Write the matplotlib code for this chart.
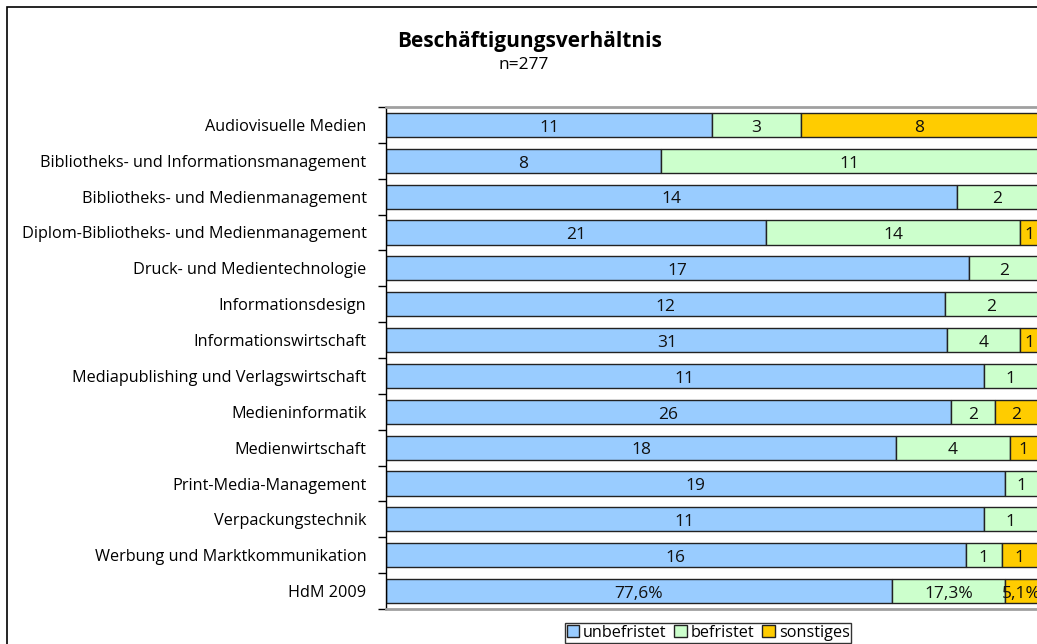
import numpy as np
import matplotlib.pyplot as plt
from matplotlib.patches import Rectangle

categories = ["Audiovisuelle Medien",
              "Bibliotheks- und Informationsmanagement",
              "Bibliotheks- und Medienmanagement",
              "Diplom-Bibliotheks- und Medienmanagement",
              "Druck- und Medientechnologie",
              "Informationsdesign",
              "Informationswirtschaft",
              "Mediapublishing und Verlagswirtschaft",
              "Medieninformatik",
              "Medienwirtschaft",
              "Print-Media-Management",
              "Verpackungstechnik",
              "Werbung und Marktkommunikation",
              "HdM 2009"]
unbefristet = [11, 8, 14, 21, 17, 12, 31, 11, 26, 18, 19, 11, 16, 77.6]
befristet = [3, 11, 2, 14, 2, 2, 4, 1, 2, 4, 1, 1, 1, 17.3]
sonstiges = [8, 0, 0, 1, 0, 0, 1, 0, 2, 1, 0, 0, 1, 5.1]
series_names = ["unbefristet", "befristet", "sonstiges"]
colors = ["#99CCFF", "#CCFFCC", "#FFCC00"]

plt.rcParams['font.family'] = ['Open Sans', 'DejaVu Sans']

W, H = 1037, 644
fig = plt.figure(figsize=(W/100, H/100), dpi=100)

# outer chart frame
fig.patches.append(Rectangle((7/W, -0.1), 1.2, 1 - 7/H + 0.1, transform=fig.transFigure,
                             fill=False, edgecolor='black', linewidth=1.2))

ax = fig.add_axes([386/W, 1 - 609/H, 652/W, (609 - 107)/H])

data = np.array([unbefristet, befristet, sonstiges], dtype=float)
totals = data.sum(axis=0)
shares = data / totals
y = np.arange(len(categories))
left = np.zeros(len(categories))
for k in range(3):
    ax.barh(y, shares[k], left=left, height=0.67, color=colors[k],
            edgecolor='#222222', linewidth=1.0, label=series_names[k])
    for i in range(len(categories)):
        v = data[k, i]
        if v <= 0:
            continue
        if i == len(categories) - 1:
            txt = f"{v:.1f}%".replace('.', ',')
        else:
            txt = f"{int(v)}"
        ax.text(left[i] + shares[k, i] / 2, y[i] + 0.02, txt, ha='center',
                va='center_baseline', fontsize=12.5, color='#111111', clip_on=False)
    left += shares[k]

ax.set_xlim(0, 1)
ax.set_ylim(len(categories) - 0.5, -0.5)
ax.set_xticks([])
ax.set_yticks(y)
ax.set_yticklabels(categories, fontsize=11.7, va='center_baseline')
ax.tick_params(axis='y', which='major', length=0, pad=14)
ax.set_yticks(np.arange(-0.5, len(categories)), minor=True)
ax.tick_params(axis='y', which='minor', length=6, width=1, color='black')
for s in ['top', 'bottom']:
    ax.spines[s].set_color('#A0A0A0')
    ax.spines[s].set_linewidth(2)
ax.spines['right'].set_visible(False)
ax.spines['left'].set_color('black')
ax.spines['left'].set_linewidth(1)

fig.text(530/W, 1 - 42/H, "Beschäftigungsverhältnis", ha='center', va='center',
         fontsize=15, fontweight='bold')
fig.text(524/W, 1 - 65/H, "n=277", ha='center', va='center', fontsize=12.5)

leg = fig.legend(loc='center', bbox_to_anchor=(708/W, 1 - 633/H), ncol=3,
                 fontsize=11.7, frameon=True, fancybox=False, edgecolor='black',
                 handlelength=0.75, handleheight=0.75, handletextpad=0.25,
                 columnspacing=0.5, borderpad=0.1, borderaxespad=0)
leg.get_frame().set_linewidth(1)

fig.savefig("out.png", dpi=100)
